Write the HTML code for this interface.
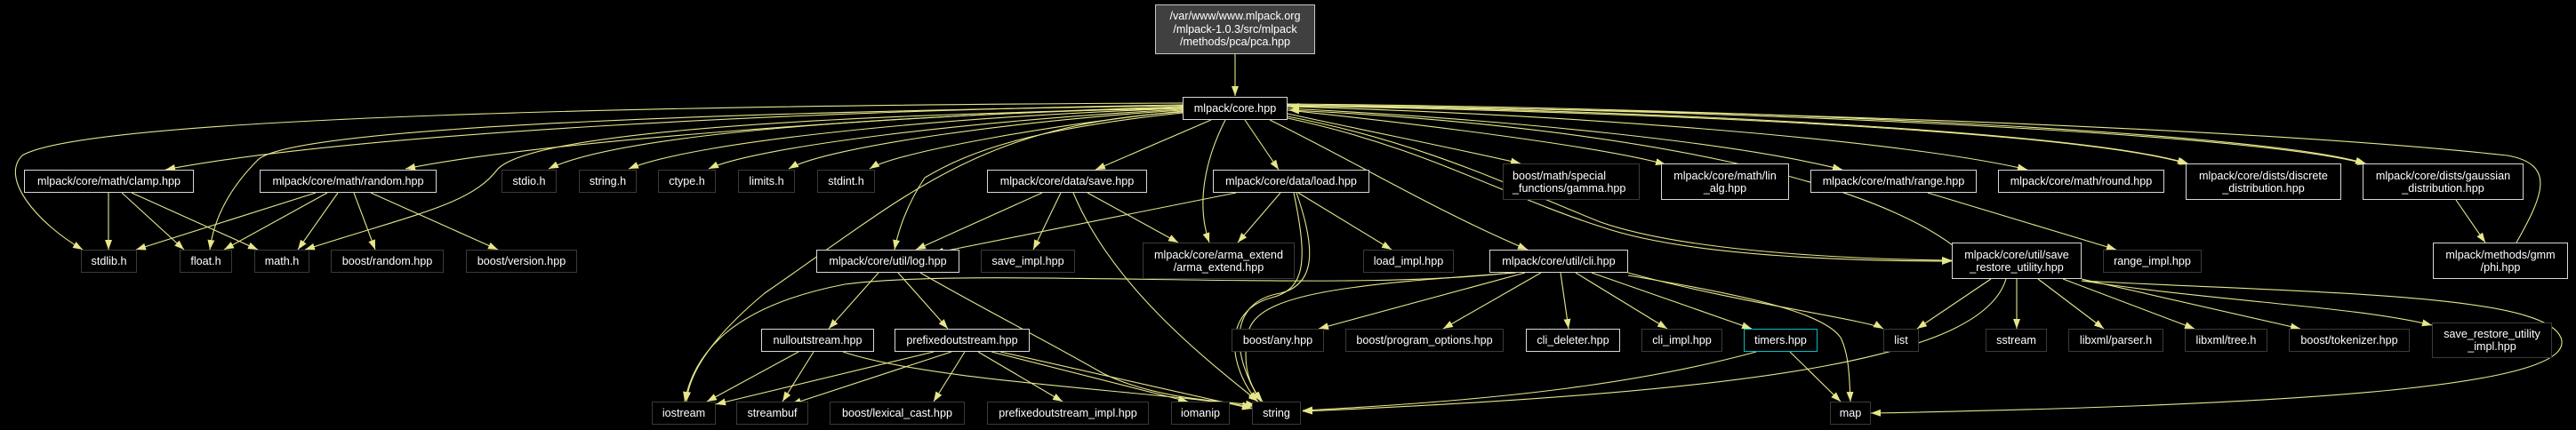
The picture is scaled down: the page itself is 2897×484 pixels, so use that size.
<!DOCTYPE html>
<html><head><meta charset="utf-8">
<style>
html,body{margin:0;padding:0;background:#000;}
#c{position:relative;width:2897px;height:484px;background:#000;overflow:hidden;font-family:"Liberation Sans",Arial,sans-serif;}
svg{position:absolute;left:0;top:0;}
.n{position:absolute;box-sizing:border-box;border:1px solid #3a3a3a;background:#000;color:#fff;font-size:12.6px;line-height:14px;display:flex;align-items:center;justify-content:center;text-align:center;white-space:nowrap;}
.w{border:1.5px solid #d8d8d8;}
.c{border:1.5px solid #00c0c0;}
.p{background:#404040;border:1.5px solid #c8c8c8;}
</style></head><body><div id="c">
<svg width="2897" height="484" viewBox="0 0 2897 484">
<defs><marker id="a" markerUnits="userSpaceOnUse" markerWidth="12" markerHeight="10" refX="11" refY="4" orient="auto"><path d="M0,0 L11,4 L0,8 z" fill="#e6e68a"/></marker></defs>
<g fill="none" stroke="#e6e68a" stroke-width="1.1" marker-end="url(#a)">
<path d="M1389,61 L1389,108"/>
<path d="M1330,116 C800,118 100,130 25,175 C0,200 40,250 93,281"/>
<path d="M1330,118 C900,125 400,150 186,191"/>
<path d="M1330,119 C900,125 330,140 290,180 C255,215 240,250 236,281"/>
<path d="M1330,120 C1000,130 600,160 456,190"/>
<path d="M1330,122 C900,130 600,150 560,190 C530,230 470,240 343,281"/>
<path d="M1330,121 C1000,130 700,150 617,190"/>
<path d="M1330,122 C1050,132 780,160 707,190"/>
<path d="M1330,123 C1100,135 850,165 797,190"/>
<path d="M1330,124 C1150,135 930,165 887,190"/>
<path d="M1330,125 C1200,138 1010,170 978,190"/>
<path d="M1330,126 C1100,140 1020,220 860,330 C800,380 775,420 772,452"/>
<path d="M1330,127 C1160,145 1090,170 1040,200 C1020,230 1010,260 1006,281"/>
<path d="M1362,135 L1232,191"/>
<path d="M1400,135 L1438,191"/>
<path d="M1378,135 C1355,180 1345,230 1360,273"/>
<path d="M1428,135 C1520,180 1620,240 1718,281"/>
<path d="M1448,128 C1550,150 1650,170 1710,184"/>
<path d="M1448,124 C1600,140 1800,165 1873,185"/>
<path d="M1448,122 C1700,135 1950,160 2072,191"/>
<path d="M1448,120 C1800,130 2150,160 2280,191"/>
<path d="M1448,118 C1900,125 2350,150 2460,184"/>
<path d="M1448,119 C1900,127 2350,150 2462,185"/>
<path d="M1448,117 C2000,122 2550,150 2660,184"/>
<path d="M1448,118 C2000,124 2550,152 2662,185"/>
<path d="M1448,131 C1600,160 1700,210 1800,250 C1900,285 2100,292 2195,293"/>
<path d="M1448,133 C1600,165 1690,220 1800,255 C1900,290 2100,294 2195,294"/>
<path d="M2830,273 C2860,220 2875,185 2820,175 C2500,140 1800,120 1450,120"/>
<path d="M2233,314 C2160,200 1800,140 1450,124"/>
<path d="M122,217 L122,281"/>
<path d="M137,217 L207,281"/>
<path d="M148,217 L290,281"/>
<path d="M355,217 L153,281"/>
<path d="M368,217 L252,281"/>
<path d="M380,217 L335,281"/>
<path d="M398,217 L422,281"/>
<path d="M417,217 L560,281"/>
<path d="M1172,217 L1030,281"/>
<path d="M1193,217 L1162,281"/>
<path d="M1207,217 C1250,320 1350,400 1415,452"/>
<path d="M1223,217 L1325,273"/>
<path d="M1390,217 L1050,285"/>
<path d="M1440,217 L1392,273"/>
<path d="M1460,217 L1565,281"/>
<path d="M1458,217 C1480,280 1480,320 1440,330 C1380,340 1385,400 1418,452"/>
<path d="M1455,217 C1470,290 1470,325 1430,335 C1375,350 1380,410 1414,452"/>
<path d="M988,307 L932,370"/>
<path d="M1010,307 L1066,370"/>
<path d="M1035,307 C1110,350 1170,380 1240,420 C1300,450 1380,452 1412,456"/>
<path d="M1700,307 C1500,330 1100,300 950,320 C820,345 780,400 770,452"/>
<path d="M1715,307 L1483,370"/>
<path d="M1733,307 L1623,370"/>
<path d="M1755,307 L1764,370"/>
<path d="M1772,307 L1875,370"/>
<path d="M1790,307 L1970,370"/>
<path d="M1831,307 C1950,340 2100,360 2118,370"/>
<path d="M1831,310 C1950,330 2050,350 2070,380 C2080,400 2080,430 2081,452"/>
<path d="M1705,307 C1520,320 1420,330 1405,370 C1395,410 1405,435 1420,452"/>
<path d="M898,396 L795,452"/>
<path d="M915,396 L880,452"/>
<path d="M948,396 C1050,430 1300,440 1408,458"/>
<path d="M1050,396 L805,455"/>
<path d="M1070,396 L890,455"/>
<path d="M1085,396 L1050,452"/>
<path d="M1100,396 L1195,452"/>
<path d="M1115,396 L1336,452"/>
<path d="M1125,396 L1408,460"/>
<path d="M1975,396 C1850,430 1700,450 1465,462"/>
<path d="M2013,396 L2070,452"/>
<path d="M2239,314 L2156,370"/>
<path d="M2256,314 C2230,400 2000,440 1465,463"/>
<path d="M2268,314 L2268,370"/>
<path d="M2292,314 L2366,370"/>
<path d="M2320,314 L2468,370"/>
<path d="M2341,314 L2587,370"/>
<path d="M2341,316 C2500,340 2650,345 2735,366"/>
<path d="M2341,316 C2600,330 2860,330 2880,380 C2900,430 2650,455 2104,465"/>
<path d="M2168,217 L2380,281"/>
<path d="M2762,225 L2795,273"/>
</g>
</svg>
<div class="n p" style="left:1299px;top:5px;width:180px;height:56px;line-height:14.5px;">/var/www/www.mlpack.org<br>/mlpack-1.0.3/src/mlpack<br>/methods/pca/pca.hpp</div>
<div class="n w" style="left:1330px;top:109px;width:118px;height:26px;">mlpack/core.hpp</div>
<div class="n w" style="left:27px;top:191px;width:191px;height:26px;">mlpack/core/math/clamp.hpp</div>
<div class="n w" style="left:292px;top:191px;width:199px;height:26px;">mlpack/core/math/random.hpp</div>
<div class="n" style="left:564px;top:191px;width:62px;height:26px;">stdio.h</div>
<div class="n" style="left:651px;top:191px;width:65px;height:26px;">string.h</div>
<div class="n" style="left:740px;top:191px;width:65px;height:26px;">ctype.h</div>
<div class="n" style="left:830px;top:191px;width:64px;height:26px;">limits.h</div>
<div class="n" style="left:919px;top:191px;width:65px;height:26px;">stdint.h</div>
<div class="n w" style="left:1110px;top:191px;width:180px;height:26px;">mlpack/core/data/save.hpp</div>
<div class="n w" style="left:1364px;top:191px;width:176px;height:26px;">mlpack/core/data/load.hpp</div>
<div class="n" style="left:1690px;top:184px;width:154px;height:41px;text-align:left;justify-content:flex-start;padding-left:10px;">boost/math/special<br>_functions/gamma.hpp</div>
<div class="n w" style="left:1868px;top:184px;width:144px;height:41px;">mlpack/core/math/lin<br>_alg.hpp</div>
<div class="n w" style="left:2036px;top:191px;width:187px;height:26px;">mlpack/core/math/range.hpp</div>
<div class="n w" style="left:2247px;top:191px;width:187px;height:26px;">mlpack/core/math/round.hpp</div>
<div class="n w" style="left:2458px;top:184px;width:175px;height:41px;">mlpack/core/dists/discrete<br>_distribution.hpp</div>
<div class="n w" style="left:2657px;top:184px;width:181px;height:41px;">mlpack/core/dists/gaussian<br>_distribution.hpp</div>
<div class="n" style="left:91px;top:281px;width:63px;height:26px;">stdlib.h</div>
<div class="n" style="left:202px;top:281px;width:59px;height:26px;">float.h</div>
<div class="n" style="left:286px;top:281px;width:62px;height:26px;">math.h</div>
<div class="n" style="left:372px;top:281px;width:127px;height:26px;">boost/random.hpp</div>
<div class="n" style="left:524px;top:281px;width:125px;height:26px;">boost/version.hpp</div>
<div class="n w" style="left:918px;top:281px;width:161px;height:26px;">mlpack/core/util/log.hpp</div>
<div class="n" style="left:1103px;top:281px;width:106px;height:26px;">save_impl.hpp</div>
<div class="n" style="left:1285px;top:273px;width:171px;height:41px;">mlpack/core/arma_extend<br>/arma_extend.hpp</div>
<div class="n" style="left:1533px;top:281px;width:102px;height:26px;">load_impl.hpp</div>
<div class="n w" style="left:1675px;top:281px;width:156px;height:26px;">mlpack/core/util/cli.hpp</div>
<div class="n w" style="left:2195px;top:273px;width:146px;height:41px;">mlpack/core/util/save<br>_restore_utility.hpp</div>
<div class="n" style="left:2365px;top:281px;width:111px;height:26px;">range_impl.hpp</div>
<div class="n w" style="left:2736px;top:273px;width:152px;height:41px;">mlpack/methods/gmm<br>/phi.hpp</div>
<div class="n w" style="left:856px;top:370px;width:127px;height:26px;">nulloutstream.hpp</div>
<div class="n w" style="left:1006px;top:370px;width:152px;height:26px;">prefixedoutstream.hpp</div>
<div class="n" style="left:1385px;top:370px;width:104px;height:26px;">boost/any.hpp</div>
<div class="n" style="left:1513px;top:370px;width:178px;height:26px;">boost/program_options.hpp</div>
<div class="n w" style="left:1716px;top:370px;width:106px;height:26px;">cli_deleter.hpp</div>
<div class="n" style="left:1846px;top:370px;width:91px;height:26px;">cli_impl.hpp</div>
<div class="n c" style="left:1961px;top:370px;width:83px;height:26px;">timers.hpp</div>
<div class="n" style="left:2118px;top:370px;width:40px;height:26px;">list</div>
<div class="n" style="left:2233px;top:370px;width:69px;height:26px;">sstream</div>
<div class="n" style="left:2326px;top:370px;width:107px;height:26px;">libxml/parser.h</div>
<div class="n" style="left:2457px;top:370px;width:93px;height:26px;">libxml/tree.h</div>
<div class="n" style="left:2574px;top:370px;width:136px;height:26px;">boost/tokenizer.hpp</div>
<div class="n" style="left:2735px;top:363px;width:135px;height:40px;">save_restore_utility<br>_impl.hpp</div>
<div class="n" style="left:733px;top:452px;width:72px;height:26px;">iostream</div>
<div class="n" style="left:828px;top:452px;width:81px;height:26px;">streambuf</div>
<div class="n" style="left:933px;top:452px;width:152px;height:26px;">boost/lexical_cast.hpp</div>
<div class="n" style="left:1110px;top:452px;width:182px;height:26px;">prefixedoutstream_impl.hpp</div>
<div class="n" style="left:1317px;top:452px;width:66px;height:26px;">iomanip</div>
<div class="n" style="left:1408px;top:452px;width:55px;height:26px;">string</div>
<div class="n" style="left:2058px;top:452px;width:46px;height:26px;">map</div>
</div></body></html>
